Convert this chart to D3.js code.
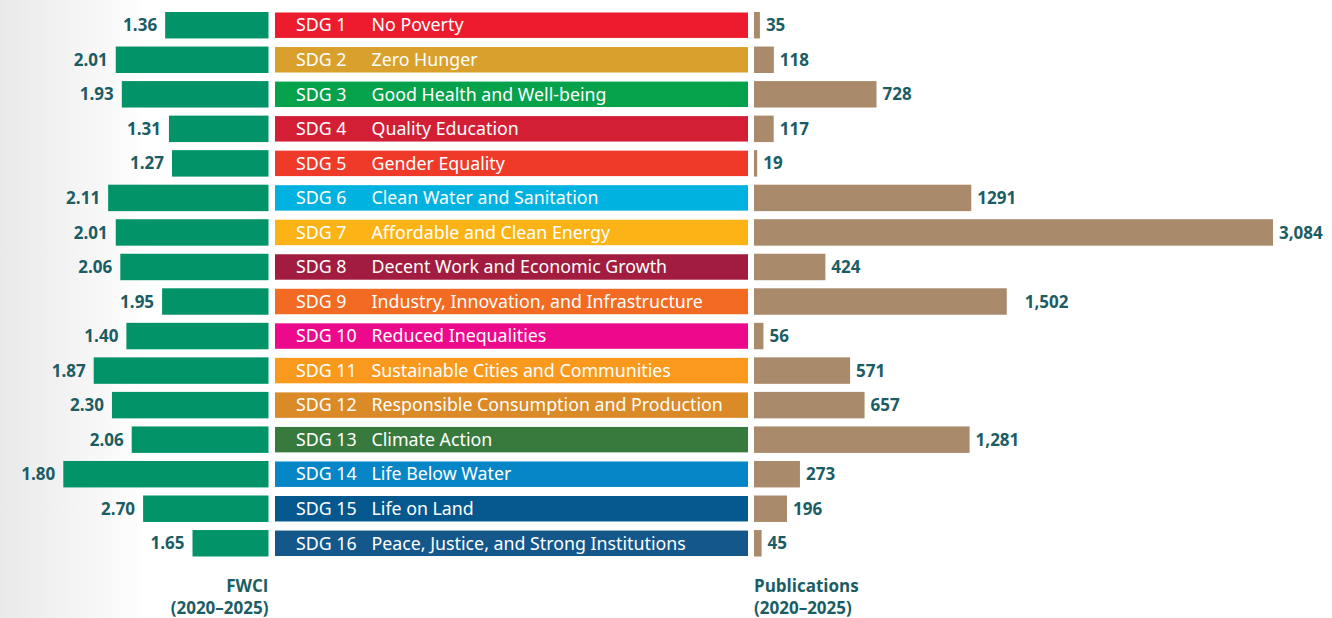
<!DOCTYPE html>
<html>
<head>
<meta charset="utf-8">
<script src="https://cdn.jsdelivr.net/npm/d3@7"></script>
<style>
  html, body { margin: 0; padding: 0; background: #fff; }
  svg { display: block; }
</style>
</head>
<body>
<div id="chart"></div>
<script>
// SDG rows, top to bottom
const goals = ['SDG 1', 'SDG 2', 'SDG 3', 'SDG 4', 'SDG 5', 'SDG 6', 'SDG 7', 'SDG 8',
  'SDG 9', 'SDG 10', 'SDG 11', 'SDG 12', 'SDG 13', 'SDG 14', 'SDG 15', 'SDG 16'];
const goalNames = ['No Poverty', 'Zero Hunger', 'Good Health and Well-being', 'Quality Education',
  'Gender Equality', 'Clean Water and Sanitation', 'Affordable and Clean Energy',
  'Decent Work and Economic Growth', 'Industry, Innovation, and Infrastructure',
  'Reduced Inequalities', 'Sustainable Cities and Communities',
  'Responsible Consumption and Production', 'Climate Action', 'Life Below Water',
  'Life on Land', 'Peace, Justice, and Strong Institutions'];
const goalColors = ['#ec1c2e', '#daa02c', '#06a14b', '#d31f35', '#ef3a2a', '#00b2df', '#fbb316',
  '#a21c3f', '#f36a22', '#ec098c', '#f99a1e', '#db8a28', '#387a3d', '#0786c7', '#04588e', '#13578b'];

// FWCI: bar lengths as drawn, and the numbers printed beside them (they differ from SDG 8 on)
const fwciBars = [1.36, 2.01, 1.93, 1.31, 1.27, 2.11, 2.01, 1.95, 1.40, 1.87, 2.30, 2.06, 1.80, 2.70, 1.65, 1.00];
const fwciLabels = ['1.36', '2.01', '1.93', '1.31', '1.27', '2.11', '2.01', '2.06', '1.95', '1.40',
  '1.87', '2.30', '2.06', '1.80', '2.70', '1.65'];

// Publications 2020-2025
const pubs = [35, 118, 728, 117, 19, 1291, 3084, 424, 1502, 56, 571, 657, 1281, 273, 196, 45];
const pubLabels = ['35', '118', '728', '117', '19', '1291', '3,084', '424', '1,502', '56', '571',
  '657', '1,281', '273', '196', '45'];

const width = 1332, height = 618;
const ink = '#1c5d64';
const fwciColor = '#029468';
const pubColor = '#a98a6b';
const numFont = '"Open Sans", sans-serif';

const svg = d3.select('#chart').append('svg')
  .attr('width', width).attr('height', height);

// soft grey fade on the left edge
const grad = svg.append('defs').append('linearGradient').attr('id', 'fade');
grad.append('stop').attr('offset', '0%').attr('stop-color', '#e9e9e9');
grad.append('stop').attr('offset', '100%').attr('stop-color', '#ffffff');
svg.append('rect').attr('x', 0).attr('y', 0).attr('width', 150).attr('height', height).attr('fill', 'url(#fade)');

const y = d3.scaleBand().domain(goals).range([12, 556.5]).paddingInner(0.234).paddingOuter(0);
const xF = d3.scaleLinear().domain([0, 1]).range([268.5, 192.5]);
const xP = d3.scaleLinear().domain([0, 3084]).range([754, 1273]);

const rows = goals.map((g, i) => ({
  id: g, name: goalNames[i], color: goalColors[i],
  fwci: fwciBars[i], fwciText: fwciLabels[i], pubs: pubs[i], pubText: pubLabels[i]
}));

const row = svg.selectAll('g.row').data(rows).join('g').attr('class', 'row');

// FWCI bars (grow leftwards)
row.append('rect')
  .attr('x', (d) => xF(d.fwci))
  .attr('y', (d) => y(d.id))
  .attr('width', (d) => xF(0) - xF(d.fwci))
  .attr('height', y.bandwidth())
  .attr('fill', fwciColor);

row.append('text')
  .attr('x', (d) => xF(d.fwci) - 8)
  .attr('y', (d) => y(d.id) + y.bandwidth() / 2)
  .attr('dy', '0.36em')
  .attr('text-anchor', 'end')
  .attr('font-family', numFont)
  .attr('font-weight', 700)
  .attr('font-size', 17)
  .attr('fill', ink)
  .text((d) => d.fwciText);

// centre SDG label strip
row.append('rect')
  .attr('x', 275)
  .attr('y', (d) => y(d.id) + 0.5)
  .attr('width', 473)
  .attr('height', y.bandwidth() - 1)
  .attr('fill', (d) => d.color);

const lab = row.append('text')
  .attr('y', (d) => y(d.id) + y.bandwidth() / 2)
  .attr('dy', '0.35em')
  .attr('font-family', '"Noto Sans", sans-serif')
  .attr('font-size', 17.8)
  .attr('fill', '#fff');
lab.append('tspan').attr('x', 296).text((d) => d.id);
lab.append('tspan').attr('x', 371.5).text((d) => d.name);

// publication bars
row.append('rect')
  .attr('x', xP(0))
  .attr('y', (d) => y(d.id))
  .attr('width', (d) => xP(d.pubs) - xP(0))
  .attr('height', y.bandwidth())
  .attr('fill', pubColor);

row.append('text')
  .attr('x', (d) => xP(d.pubs) + (d.id === 'SDG 9' ? 18 : 6))
  .attr('y', (d) => y(d.id) + y.bandwidth() / 2)
  .attr('dy', '0.36em')
  .attr('font-family', numFont)
  .attr('font-weight', 700)
  .attr('font-size', 17)
  .attr('fill', ink)
  .text((d) => d.pubText);

// axis titles
function title(x, anchor, lines) {
  const t = svg.append('text')
    .attr('text-anchor', anchor)
    .attr('font-family', numFont)
    .attr('font-weight', 700)
    .attr('font-size', 17)
    .attr('fill', ink);
  lines.forEach((l, i) => t.append('tspan').attr('x', x).attr('y', 592 + i * 21.5).text(l));
}
title(268.5, 'end', ['FWCI', '(2020–2025)']);
title(754, 'start', ['Publications', '(2020–2025)']);
</script>
</body>
</html>
